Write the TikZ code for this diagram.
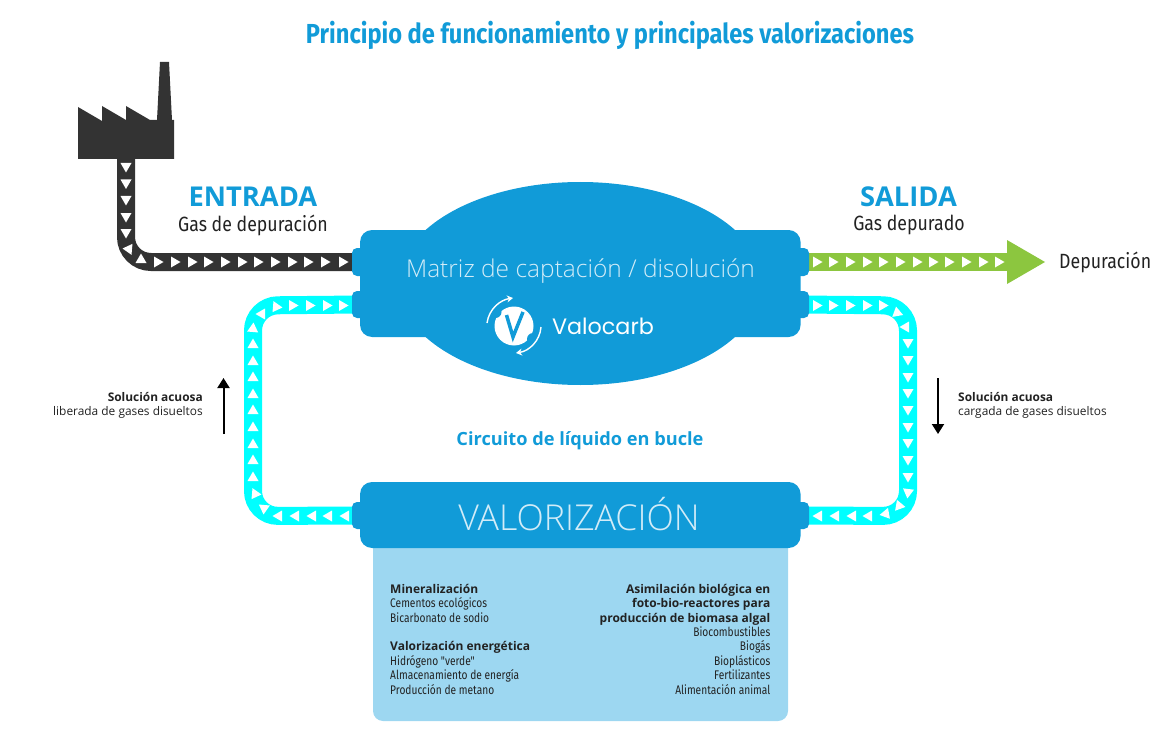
\documentclass[tikz,border=0pt]{standalone}
\usepackage{fontspec}
\usetikzlibrary{arrows.meta,backgrounds,calc,shapes.geometric}
\setmainfont{Open Sans}
\newfontfamily\condf[FakeStretch=0.86]{Fira Sans}
\newfontfamily\condl[FakeStretch=0.815]{Fira Sans}
\newfontfamily\lightf{Open Sans Light}
\newfontfamily\logof{Poppins}
\definecolor{vblue}{HTML}{119BD8}
\definecolor{vlight}{HTML}{9DD7F1}
\definecolor{vcyan}{HTML}{00FFFF}
\definecolor{vgreen}{HTML}{8CC63F}
\definecolor{vdark}{HTML}{333333}
\definecolor{vtext}{HTML}{222222}
\definecolor{vpale}{HTML}{D2ECF8}
\tikzset{
  bodybox/.style={fill=vblue,rounded corners=12pt,inner sep=0pt,minimum width=440.5pt},
  portbox/.style={fill=vblue,rounded corners=5pt,inner sep=0pt,minimum width=18pt},
  pipe/.style={line width=18pt,rounded corners=25pt,line cap=butt},
  flowarrow/.style={line width=2pt,-{Triangle[length=10pt,width=12pt]}},
  logoarrow/.style={white,line width=1.4pt,-{Stealth[length=6pt,width=7pt]}},
  heading/.style={inner sep=0pt,text=vblue,font=\bfseries\fontsize{27.3}{30}\selectfont},
  sublabel/.style={inner sep=0pt,text=vtext,font=\condf\fontsize{20.6}{22}\selectfont},
  sidelabel/.style={inner sep=0pt,text=vtext,align=left,font=\fontsize{11.9}{14.4}\selectfont},
  listlabel/.style={inner sep=0pt,text=vtext,font=\condl\fontsize{12.5}{14.4}\selectfont},
}
\newcommand{\tri}[3]{\fill[white,shift={(#1,#2)},rotate=#3] (5.5pt,0pt) -- (-4pt,5.5pt) -- (-4pt,-5.5pt) -- cycle;}
\newcommand{\hd}[1]{{\normalfont\bfseries\fontsize{12}{14.4}\selectfont #1}}
\begin{document}
\begin{tikzpicture}[x=1pt,y=-1pt]
\useasboundingbox (0,0) rectangle (1160,749);

% title
\node[inner sep=0pt,text=vblue] (title) at (610,35) {\condf\bfseries\fontsize{27.5}{30}\selectfont Principio de funcionamiento y principales valorizaciones};

% factory
\fill[vdark] (78,107) -- (102,121) -- (102,106) -- (126,120) -- (126,106) -- (150,120) -- (157,120) -- (160,62) -- (169,62) -- (172,120) -- (174,120) -- (174,159) -- (78,159) -- cycle;
\coordinate (factoryout) at (126,159);

% panel and bodies
\node[fill=vlight,rounded corners=10pt,inner sep=0pt,minimum width=415pt,minimum height=183pt] (panel) at (580.5,629.5) {};
\node[fill=vblue,ellipse,inner sep=0pt,minimum width=364pt,minimum height=203pt] (cloud) at (580.3,283.5) {};
\node[bodybox,minimum height=107pt] (matrix) at (580.3,283.5) {};
\node[bodybox,minimum height=66pt] (valor) at (580.3,515) {};

% ports
\node[portbox,minimum height=28pt] (mL1) at (361,262) {};
\node[portbox,minimum height=27pt] (mL2) at (361,304.5) {};
\node[portbox,minimum height=28pt] (mR1) at (800,262) {};
\node[portbox,minimum height=27pt] (mR2) at (800,304.5) {};
\node[portbox,minimum height=27pt] (vL) at (361,515.5) {};
\node[portbox,minimum height=27pt] (vR) at (800,515.5) {};

% corners and green arrow end
\coordinate (greenend) at (1007,262);
\coordinate (cornerTR) at (908,305.5);
\coordinate (cornerBR) at (908,516);
\coordinate (cornerBL) at (253,516);
\coordinate (cornerTL) at (253,305.5);
\coordinate (cornerG) at (126,262);

% pipes behind the bodies
\begin{pgfonlayer}{background}
\draw[pipe,vdark] (factoryout) -- (cornerG) -- (mL1.center);
\draw[pipe,vgreen] (mR1.center) -- (greenend);
\draw[pipe,vcyan] (mR2.center) -- (cornerTR) -- (cornerBR) -- (vR.center);
\draw[pipe,vcyan] (vL.center) -- (cornerBL) -- (cornerTL) -- (mL2.center);
\end{pgfonlayer}
\fill[vgreen] (1007,240) -- (1045,262) -- (1007,284) -- cycle;

% white flow marks: gas in
\foreach \y in {167,183.5,200,217,233} {\tri{126}{\y}{-90}}
\tri{128}{249}{175}
\tri{141}{259}{90}
\foreach \x in {158,175,192,208,225,242,258,275,292,308,325,343} {\tri{\x}{262}{0}}
% gas out
\foreach \x in {817,833,850,867,883,900,917,933,949,966,983,999} {\tri{\x}{262}{0}}
% liquid, right
\foreach \x in {817,833,850,867,883} {\tri{\x}{305.5}{0}}
\tri{897}{312}{100}
\tri{905}{327}{180}
\foreach \y in {343,360,377,393,410,427,443,460,477} {\tri{908}{\y}{-90}}
\tri{908}{493}{-97}
\tri{900}{506}{-10}
\tri{885}{514}{190}
\foreach \x in {868,852,835,818} {\tri{\x}{516}{180}}
% liquid, left
\foreach \x in {345,328,312,295,278} {\tri{\x}{516}{180}}
\tri{264}{509}{-95}
\tri{256}{494}{-5}
\foreach \y in {477,460,444,427,410,394,377,361,344} {\tri{253}{\y}{90}}
\tri{253}{328}{85}
\tri{261}{314}{180}
\tri{277}{307}{-5}
\foreach \x in {293,310,327,343} {\tri{\x}{305.5}{0}}

% labels
\node[heading] (entrada) at (253,197) {ENTRADA};
\node[sublabel] (gasin) at (253,225) {Gas de depuración};
\node[heading] (salida) at (908.5,197) {SALIDA};
\node[sublabel] (gasout) at (909,225) {Gas depurado};
\node[sublabel,anchor=west] (depur) at (1059,262) {Depuración};

\node[inner sep=0pt,text=vpale,font=\lightf\fontsize{24.5}{28}\selectfont] (mtext) at (580.5,271) {Matriz de captación / disolución};
\node[inner sep=0pt,text=white,font=\logof\fontsize{22.3}{26}\selectfont] (vcarb) at (603,326.5) {Valocarb};
\node[inner sep=0pt,text=vpale,font=\lightf\fontsize{35.7}{40}\selectfont] (vtext) at (579,514) {VALORIZACIÓN};
\node[inner sep=0pt,text=vblue,font=\bfseries\fontsize{18.2}{21}\selectfont] (loop) at (580,441) {Circuito de líquido en bucle};

% logo
\fill[white] (514,326) circle[radius=19.5];
\fill[vblue] (495.5,312) circle[radius=6];
\fill[vblue] (533,339) circle[radius=6];
\draw[vblue,line width=3.5pt,line join=miter] (506.5,315) -- (513,337) -- (523,312);
\draw[logoarrow] (487,323) .. controls (489,309) and (500,300) .. (513,298);
\draw[logoarrow] (541,327) .. controls (540,341) and (529,351) .. (516,353);

% side notes
\node[sidelabel,align=right,anchor=east] (sideL) at (203,405.5) {\textbf{Solución acuosa\hspace{3pt}}\\liberada de gases disueltos};
\node[sidelabel,anchor=west] (sideR) at (958,405.5) {\textbf{Solución acuosa}\\cargada de gases disueltos};
\coordinate (aLs) at (223.5,434);
\coordinate (aLe) at (223.5,378);
\coordinate (aRs) at (938,378);
\coordinate (aRe) at (938,434);
\draw[flowarrow] (aLs) -- (aLe);
\draw[flowarrow] (aRs) -- (aRe);

% panel lists
\node[listlabel,align=left,anchor=north west] (listL) at (390,584) {\hd{Mineralización}\\Cementos ecológicos\\Bicarbonato de sodio\\[14.4pt]\hd{Valorización energética}\\Hidrógeno "verde"\\Almacenamiento de energía\\Producción de metano};
\node[listlabel,align=right,anchor=north east] (listR) at (770.5,584) {\hd{Asimilación biológica en}\\\hd{foto-bio-reactores para}\\\hd{producción de biomasa algal}\\Biocombustibles\\Biogás\\Bioplásticos\\Fertilizantes\\Alimentación animal};
\end{tikzpicture}
\end{document}
